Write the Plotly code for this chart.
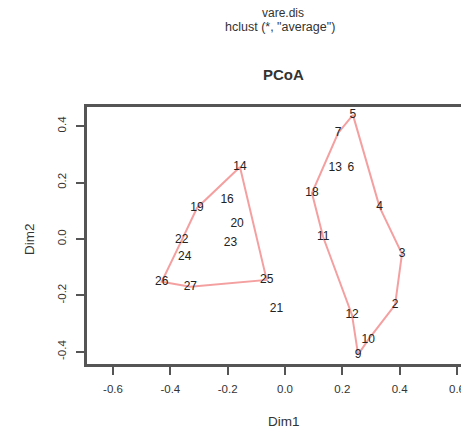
import plotly.graph_objects as go

# ---- data ----
labels = ["14", "19", "16", "20", "22", "23", "24", "26", "27", "25", "21",
          "5", "7", "13", "6", "18", "4", "11", "3", "2", "12", "10", "9"]
dim1 = [-0.157, -0.307, -0.202, -0.167, -0.360, -0.190, -0.350, -0.430, -0.330, -0.064, -0.030,
        0.237, 0.185, 0.175, 0.230, 0.094, 0.330, 0.133, 0.408, 0.384, 0.234, 0.290, 0.255]
dim2 = [0.255, 0.110, 0.138, 0.053, -0.004, -0.015, -0.063, -0.152, -0.169, -0.145, -0.250,
        0.440, 0.375, 0.250, 0.250, 0.163, 0.113, 0.007, -0.053, -0.234, -0.270, -0.358, -0.410]
hull_left = ["14", "19", "22", "26", "27", "25"]
hull_right = ["5", "7", "18", "11", "12", "9", "10", "2", "3", "4"]
xticks = [-0.6, -0.4, -0.2, 0.0, 0.2, 0.4, 0.6]
xticktext = ["-0.6", "-0.4", "-0.2", "0.0", "0.2", "0.4", "0.6"]
yticks = [-0.4, -0.2, 0.0, 0.2, 0.4]
yticktext = ["-0.4", "-0.2", "0.0", "0.2", "0.4"]

W, H = 461, 433
ML, MT, MB = 87, 107, 69
PH = H - MT - MB
PW = W - ML
FONT = "Liberation Sans, Arial, sans-serif"

def px_x(p):
    return (p - ML) / PW

def px_y(p):
    return (H - MB - p) / PH

idx = {l: i for i, l in enumerate(labels)}

fig = go.Figure()
for hull in (hull_left, hull_right):
    hx = [dim1[idx[l]] for l in hull] + [dim1[idx[hull[0]]]]
    hy = [dim2[idx[l]] for l in hull] + [dim2[idx[hull[0]]]]
    fig.add_trace(go.Scatter(x=hx, y=hy, mode="lines",
                             line=dict(color="#f4a0a0", width=2),
                             hoverinfo="skip", showlegend=False))

fig.add_trace(go.Scatter(x=dim1, y=dim2, mode="text", text=labels,
                         textposition="middle center",
                         textfont=dict(family=FONT, size=12, color="#222"),
                         showlegend=False))

axcol = "#555555"

def ann(text, x, y, size, angle=0):
    return dict(text=text, x=px_x(x), y=px_y(y), xref="paper", yref="paper",
                xanchor="center", yanchor="middle", showarrow=False,
                textangle=angle, font=dict(family=FONT, size=size, color="#333"))

edge_tick = dict(text=xticktext[-1], x=xticks[-1], xref="x", y=px_y(389), yref="paper",
                 xanchor="center", yanchor="middle", showarrow=False,
                 font=dict(family=FONT, size=11.5, color="#333"))

fig.update_layout(
    width=W, height=H,
    margin=dict(l=ML, r=0, t=MT, b=MB, pad=0),
    plot_bgcolor="white", paper_bgcolor="white",
    xaxis=dict(range=[-0.6906, 0.6139], tickvals=xticks, ticktext=xticktext,
               showgrid=False, zeroline=False, showline=True, linecolor=axcol,
               linewidth=2.5, mirror=True, ticks="outside", ticklen=8,
               tickwidth=2, tickcolor=axcol, ticklabelstandoff=4,
               tickfont=dict(family=FONT, size=11.5, color="#333")),
    yaxis=dict(range=[-0.4433, 0.468], tickvals=yticks, ticktext=yticktext,
               showgrid=False, zeroline=False, showline=True, linecolor=axcol,
               linewidth=2.5, ticks="outside", ticklen=8, tickwidth=2,
               tickcolor=axcol, tickangle=-90, ticklabelstandoff=6,
               tickfont=dict(family=FONT, size=11.5, color="#333")),
    annotations=[
        ann("vare.dis", 283, 13, 12),
        ann('hclust (*, "average")', 280, 27, 12.5),
        ann("<b>PCoA</b>", 283, 74, 15),
        ann("Dim1", 284, 421, 13.5),
        ann("Dim2", 29, 239, 13.5, -90),
        edge_tick,
    ],
)

fig.write_html("out.html",
               config={"displayModeBar": False},
               post_script="document.body.style.margin='0px';"
                           "document.documentElement.style.overflow='hidden';")
